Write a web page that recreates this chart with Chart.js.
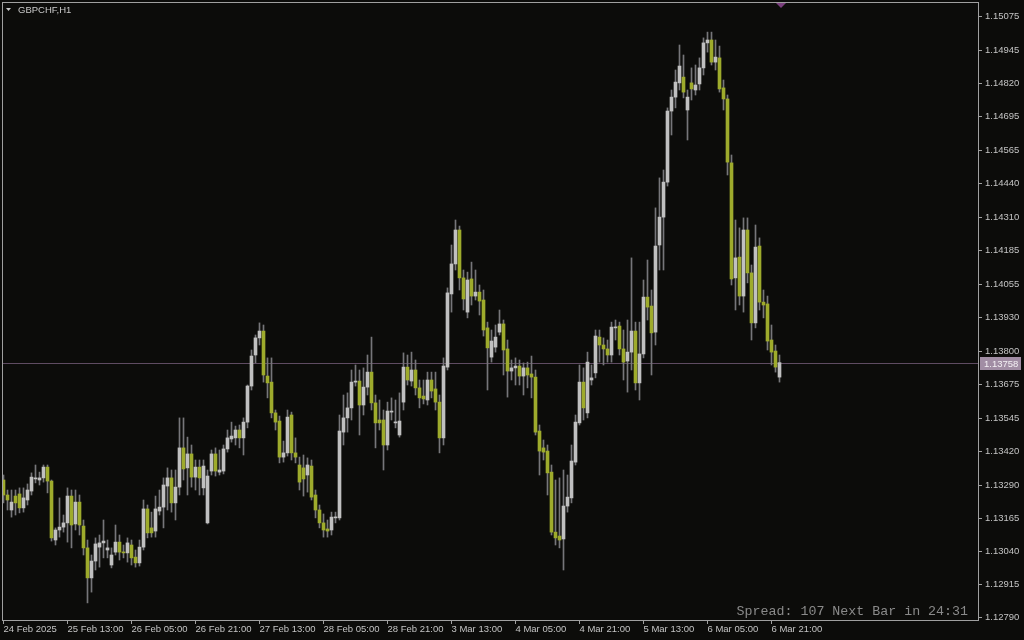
<!DOCTYPE html>
<html>
<head>
<meta charset="utf-8">
<title>GBPCHF,H1</title>
<script src="https://cdn.jsdelivr.net/npm/chart.js@4.4.1/dist/chart.umd.min.js"></script>
<style>
    html, body { margin: 0; padding: 0; background: #0c0c0a; overflow: hidden; }
</style>
</head>
<body>
<canvas id="chart" width="1024" height="640"></canvas>
<script>
// GBPCHF H1 - una vela por hora, 24 Feb 21:00 -> 6 Mar 23:00
const opens = [
    1.13312, 1.13255, 1.13198, 1.13251, 1.13259, 1.13206, 1.13236, 1.13270, 1.13316, 1.13312,
    1.13320, 1.13361, 1.13308, 1.13084, 1.13122, 1.13133, 1.13149, 1.13251, 1.13145, 1.13228,
    1.13137, 1.13054, 1.12940, 1.13004, 1.13057, 1.13073, 1.13046, 1.12989, 1.13038, 1.13076,
    1.13038, 1.13035, 1.13065, 1.13019, 1.12997, 1.13057, 1.13202, 1.13130, 1.13118, 1.13194,
    1.13209, 1.13289, 1.13320, 1.13225, 1.13285, 1.13434, 1.13358, 1.13411, 1.13323, 1.13361,
    1.13282, 1.13149, 1.13346, 1.13411, 1.13342, 1.13346, 1.13430, 1.13468, 1.13472, 1.13502,
    1.13472, 1.13532, 1.13669, 1.13787, 1.13852, 1.13878, 1.13707, 1.13684, 1.13567, 1.13536,
    1.13399, 1.13415, 1.13559, 1.13415, 1.13369, 1.13358, 1.13331, 1.13365, 1.13255, 1.13198,
    1.13149, 1.13126, 1.13122, 1.13168, 1.13168, 1.13494, 1.13548, 1.13586, 1.13684, 1.13688,
    1.13597, 1.13665, 1.13722, 1.13605, 1.13540, 1.13540, 1.13445, 1.13570, 1.13529, 1.13483,
    1.13608, 1.13741, 1.13688, 1.13730, 1.13662, 1.13631, 1.13616, 1.13692, 1.13658, 1.13608,
    1.13472, 1.13741, 1.14019, 1.14133, 1.14262, 1.14080, 1.13950, 1.14076, 1.14011, 1.14026,
    1.13996, 1.13890, 1.13779, 1.13817, 1.13874, 1.13905, 1.13810, 1.13726, 1.13738, 1.13745,
    1.13707, 1.13738, 1.13715, 1.13703, 1.13498, 1.13434, 1.13422, 1.13342, 1.13114, 1.13099,
    1.13088, 1.13213, 1.13244, 1.13380, 1.13529, 1.13684, 1.13567, 1.13692, 1.13719, 1.13855,
    1.13825, 1.13810, 1.13787, 1.13890, 1.13897, 1.13810, 1.13764, 1.13798, 1.13878, 1.13681,
    1.13791, 1.14007, 1.13973, 1.13874, 1.14205, 1.14311, 1.14444, 1.14714, 1.14767, 1.14821,
    1.14843, 1.14718, 1.14821, 1.14794, 1.14817, 1.14878, 1.14973, 1.14984, 1.14900, 1.14916,
    1.14802, 1.14760, 1.14517, 1.14080, 1.14159, 1.14011, 1.14262, 1.14099, 1.13909, 1.14201,
    1.13988, 1.13981, 1.13844, 1.13802, 1.13703
];
const highs = [
    1.13331, 1.13274, 1.13274, 1.13274, 1.13282, 1.13282, 1.13297, 1.13339, 1.13369, 1.13342,
    1.13369, 1.13369, 1.13312, 1.13130, 1.13244, 1.13179, 1.13282, 1.13274, 1.13274, 1.13255,
    1.13160, 1.13084, 1.13027, 1.13092, 1.13103, 1.13160, 1.13084, 1.13054, 1.13141, 1.13103,
    1.13065, 1.13092, 1.13084, 1.13046, 1.13084, 1.13236, 1.13217, 1.13190, 1.13251, 1.13274,
    1.13320, 1.13358, 1.13350, 1.13350, 1.13548, 1.13548, 1.13475, 1.13445, 1.13388, 1.13388,
    1.13388, 1.13350, 1.13426, 1.13434, 1.13426, 1.13445, 1.13502, 1.13532, 1.13517, 1.13521,
    1.13548, 1.13673, 1.13806, 1.13863, 1.13909, 1.13901, 1.13776, 1.13776, 1.13578, 1.13555,
    1.13460, 1.13578, 1.13570, 1.13472, 1.13399, 1.13407, 1.13396, 1.13388, 1.13274, 1.13217,
    1.13183, 1.13160, 1.13190, 1.13190, 1.13559, 1.13635, 1.13643, 1.13730, 1.13749, 1.13730,
    1.13738, 1.13787, 1.13855, 1.13635, 1.13616, 1.13578, 1.13608, 1.13624, 1.13616, 1.13643,
    1.13795, 1.13787, 1.13798, 1.13768, 1.13692, 1.13692, 1.13722, 1.13722, 1.13722, 1.13635,
    1.13776, 1.14042, 1.14205, 1.14300, 1.14277, 1.14110, 1.14102, 1.14140, 1.14110, 1.14053,
    1.14034, 1.13912, 1.13882, 1.13901, 1.13958, 1.13920, 1.13844, 1.13768, 1.13776, 1.13768,
    1.13757, 1.13760, 1.13783, 1.13730, 1.13521, 1.13464, 1.13445, 1.13369, 1.13312, 1.13320,
    1.13350, 1.13331, 1.13445, 1.13559, 1.13749, 1.13738, 1.13798, 1.13749, 1.13882, 1.13882,
    1.13852, 1.13844, 1.13912, 1.13920, 1.13912, 1.13882, 1.13920, 1.14156, 1.13912, 1.13912,
    1.14072, 1.14148, 1.14034, 1.14346, 1.14460, 1.14490, 1.14726, 1.14794, 1.14870, 1.14965,
    1.14927, 1.14794, 1.14878, 1.14889, 1.14916, 1.14992, 1.15014, 1.15014, 1.14984, 1.14961,
    1.14832, 1.14775, 1.14547, 1.14300, 1.14270, 1.14308, 1.14308, 1.14129, 1.14281, 1.14232,
    1.14034, 1.14011, 1.13901, 1.13825, 1.13787
];
const lows = [
    1.13225, 1.13198, 1.13171, 1.13179, 1.13187, 1.13190, 1.13217, 1.13255, 1.13301, 1.13293,
    1.13304, 1.13263, 1.13080, 1.13065, 1.13095, 1.13114, 1.13076, 1.13054, 1.13122, 1.13103,
    1.13027, 1.12845, 1.12886, 1.12970, 1.12981, 1.13016, 1.13016, 1.12978, 1.13027, 1.13008,
    1.13016, 1.13000, 1.12989, 1.12981, 1.12985, 1.13046, 1.13092, 1.13095, 1.13095, 1.13179,
    1.13130, 1.13198, 1.13190, 1.13160, 1.13255, 1.13312, 1.13255, 1.13285, 1.13274, 1.13255,
    1.13255, 1.13145, 1.13331, 1.13327, 1.13331, 1.13335, 1.13418, 1.13456, 1.13445, 1.13434,
    1.13407, 1.13510, 1.13654, 1.13757, 1.13825, 1.13684, 1.13624, 1.13548, 1.13502, 1.13377,
    1.13380, 1.13403, 1.13388, 1.13377, 1.13274, 1.13251, 1.13266, 1.13236, 1.13168, 1.13130,
    1.13095, 1.13095, 1.13103, 1.13149, 1.13160, 1.13445, 1.13494, 1.13540, 1.13669, 1.13483,
    1.13559, 1.13635, 1.13578, 1.13434, 1.13502, 1.13350, 1.13426, 1.13540, 1.13510, 1.13475,
    1.13578, 1.13673, 1.13669, 1.13635, 1.13586, 1.13601, 1.13597, 1.13624, 1.13578, 1.13415,
    1.13445, 1.13730, 1.13950, 1.14110, 1.14034, 1.13958, 1.13928, 1.13977, 1.13996, 1.13939,
    1.13859, 1.13654, 1.13760, 1.13798, 1.13863, 1.13711, 1.13627, 1.13692, 1.13673, 1.13673,
    1.13635, 1.13662, 1.13624, 1.13483, 1.13331, 1.13388, 1.13255, 1.13103, 1.13065, 1.13054,
    1.12970, 1.13190, 1.13225, 1.13369, 1.13521, 1.13540, 1.13548, 1.13673, 1.13700, 1.13760,
    1.13749, 1.13760, 1.13760, 1.13844, 1.13787, 1.13692, 1.13646, 1.13730, 1.13654, 1.13616,
    1.13776, 1.13920, 1.13711, 1.13825, 1.14110, 1.14110, 1.14429, 1.14623, 1.14726, 1.14794,
    1.14764, 1.14604, 1.14756, 1.14775, 1.14794, 1.14851, 1.14938, 1.14889, 1.14870, 1.14786,
    1.14718, 1.14471, 1.14053, 1.13958, 1.13977, 1.13950, 1.14061, 1.13844, 1.13890, 1.13958,
    1.13928, 1.13806, 1.13749, 1.13722, 1.13684
];
const closes = [
    1.13255, 1.13236, 1.13228, 1.13225, 1.13206, 1.13244, 1.13274, 1.13323, 1.13320, 1.13320,
    1.13361, 1.13308, 1.13092, 1.13122, 1.13133, 1.13149, 1.13251, 1.13141, 1.13228, 1.13141,
    1.13054, 1.12940, 1.13004, 1.13069, 1.13073, 1.13080, 1.13054, 1.13027, 1.13076, 1.13038,
    1.13035, 1.13073, 1.13016, 1.12997, 1.13057, 1.13202, 1.13111, 1.13111, 1.13202, 1.13209,
    1.13293, 1.13320, 1.13225, 1.13285, 1.13434, 1.13354, 1.13411, 1.13323, 1.13361, 1.13320,
    1.13365, 1.13327, 1.13411, 1.13346, 1.13350, 1.13430, 1.13472, 1.13479, 1.13502, 1.13472,
    1.13532, 1.13669, 1.13783, 1.13852, 1.13878, 1.13711, 1.13681, 1.13567, 1.13532, 1.13399,
    1.13415, 1.13551, 1.13415, 1.13399, 1.13304, 1.13316, 1.13369, 1.13247, 1.13198, 1.13149,
    1.13122, 1.13118, 1.13171, 1.13171, 1.13498, 1.13548, 1.13586, 1.13684, 1.13688, 1.13597,
    1.13665, 1.13722, 1.13605, 1.13529, 1.13529, 1.13445, 1.13574, 1.13574, 1.13532, 1.13536,
    1.13741, 1.13692, 1.13730, 1.13662, 1.13624, 1.13620, 1.13692, 1.13650, 1.13608, 1.13472,
    1.13745, 1.14023, 1.14133, 1.14262, 1.14080, 1.14000, 1.14072, 1.14011, 1.14026, 1.13992,
    1.13882, 1.13814, 1.13840, 1.13855, 1.13905, 1.13806, 1.13726, 1.13738, 1.13745, 1.13707,
    1.13738, 1.13711, 1.13703, 1.13494, 1.13422, 1.13418, 1.13339, 1.13114, 1.13092, 1.13084,
    1.13213, 1.13247, 1.13384, 1.13532, 1.13684, 1.13586, 1.13760, 1.13700, 1.13859, 1.13825,
    1.13810, 1.13787, 1.13893, 1.13893, 1.13810, 1.13760, 1.13798, 1.13878, 1.13681, 1.13791,
    1.14007, 1.13969, 1.13871, 1.14201, 1.14311, 1.14444, 1.14714, 1.14767, 1.14824, 1.14885,
    1.14786, 1.14767, 1.14798, 1.14813, 1.14878, 1.14973, 1.14984, 1.14900, 1.14919, 1.14798,
    1.14760, 1.14520, 1.14076, 1.14156, 1.14011, 1.14262, 1.14099, 1.13909, 1.14197, 1.13988,
    1.13977, 1.13840, 1.13798, 1.13741, 1.13758
];

// etiquetas del eje de tiempo (una cada 16 velas)
const tickLabels = [
    '24 Feb 2025', '25 Feb 13:00', '26 Feb 05:00', '26 Feb 21:00', '27 Feb 13:00',
    '28 Feb 05:00', '28 Feb 21:00', '3 Mar 13:00', '4 Mar 05:00', '4 Mar 21:00',
    '5 Mar 13:00', '6 Mar 05:00', '6 Mar 21:00'
];
const tickStep = 16;

// escala de precios
const priceTicks = [
    1.15075, 1.14945, 1.14820, 1.14695, 1.14565, 1.14440, 1.14310, 1.14185, 1.14055, 1.13930,
    1.13800, 1.13675, 1.13545, 1.13420, 1.13290, 1.13165, 1.13040, 1.12915, 1.12790
];
const priceMin = 1.12780;
const priceMax = 1.151284;
const lastPrice = 1.13758;

const symbolText = 'GBPCHF,H1';
const spreadText = 'Spread: 107 Next Bar in 24:31';

// colores estilo MT4
const BG = '#0c0c0a';
const BULL = '#c0c0c0';
const BEAR = '#9eab2c';
const WICK = '#76767a';
const FRAME = '#a0a0a0';
const TEXT = '#c4c4c4';

const bodyData = opens.map((o, i) => ({ x: i, y: [o, closes[i]] }));
const wickData = lows.map((l, i) => ({ x: i, y: [l, highs[i]] }));
const bodyColors = opens.map((o, i) => closes[i] >= o ? BULL : BEAR);

const mtPlugin = {
    id: 'mt4',
    beforeDraw(chart) {
        const c = chart.ctx;
        c.save();
        c.fillStyle = BG;
        c.fillRect(0, 0, chart.width, chart.height);
        c.restore();
    },
    beforeDatasetsDraw(chart) {
        // linea del precio actual
        const { ctx: c, chartArea: a } = chart;
        const y = Math.round(chart.scales.y.getPixelForValue(lastPrice)) + 0.5;
        c.save();
        c.strokeStyle = '#5f4c62';
        c.lineWidth = 1;
        c.beginPath();
        c.moveTo(a.left, y);
        c.lineTo(a.right, y);
        c.stroke();
        c.restore();
    },
    afterDraw(chart) {
        const { ctx: c, chartArea: a } = chart;
        c.save();

        // marco
        c.strokeStyle = FRAME;
        c.lineWidth = 1;
        c.strokeRect(a.left + 0.5, a.top + 0.5, a.right - a.left, a.bottom - a.top);

        // etiqueta del precio actual
        const y = Math.round(chart.scales.y.getPixelForValue(lastPrice));
        c.fillStyle = '#a18da4';
        c.fillRect(a.right + 2, y - 6, 41, 13);
        c.fillStyle = '#f4f0f4';
        c.font = '9.5px "Liberation Sans", Arial, sans-serif';
        c.textBaseline = 'middle';
        c.textAlign = 'left';
        c.fillText(lastPrice.toFixed(5), a.right + 6, y + 1);

        // simbolo arriba a la izquierda
        c.fillStyle = '#c8c8c8';
        c.beginPath();
        c.moveTo(6, 8);
        c.lineTo(11, 8);
        c.lineTo(8.5, 11);
        c.closePath();
        c.fill();
        c.font = '9.5px "Liberation Sans", Arial, sans-serif';
        c.fillText(symbolText, 18, 10);

        // marcador de desplazamiento
        c.fillStyle = '#7a3f7d';
        c.beginPath();
        c.moveTo(776, a.top + 1);
        c.lineTo(786, a.top + 1);
        c.lineTo(781, a.top + 6);
        c.closePath();
        c.fill();

        // texto del spread
        c.fillStyle = '#8a8a8a';
        c.font = '13.3px "Liberation Mono", "Courier New", monospace';
        c.textAlign = 'right';
        c.textBaseline = 'alphabetic';
        c.fillText(spreadText, 968, 615);

        c.restore();
    }
};

new Chart(document.getElementById('chart'), {
    type: 'bar',
    data: {
        datasets: [
            {
                label: 'body',
                data: bodyData,
                backgroundColor: bodyColors,
                barThickness: 3,
                minBarLength: 1,
                order: 0
            },
            {
                label: 'wick',
                data: wickData,
                backgroundColor: WICK,
                barThickness: 1,
                order: 1
            }
        ]
    },
    options: {
        responsive: false,
        animation: false,
        events: [],
        layout: { padding: { left: 2, top: 2, right: 0, bottom: 0 } },
        datasets: { bar: { grouped: false, borderWidth: 0 } },
        plugins: {
            legend: { display: false },
            tooltip: { enabled: false }
        },
        scales: {
            x: {
                type: 'linear',
                position: 'bottom',
                min: -0.375,
                max: 243.625,
                offset: false,
                bounds: 'data',
                afterBuildTicks: s => { s.ticks = tickLabels.map((t, k) => ({ value: k * tickStep })); },
                afterFit: s => { s.height = 20; s.paddingLeft = 0; s.paddingRight = 0; },
                grid: { offset: false, drawOnChartArea: false, drawTicks: true, tickLength: 4, color: FRAME },
                border: { display: false },
                ticks: {
                    autoSkip: false,
                    maxRotation: 0,
                    align: 'start',
                    padding: 0,
                    color: TEXT,
                    font: { family: '"Liberation Sans", Arial, sans-serif', size: 9.5 },
                    callback: (v, k) => tickLabels[k]
                }
            },
            y: {
                type: 'linear',
                position: 'right',
                min: priceMin,
                max: priceMax,
                bounds: 'data',
                afterBuildTicks: s => { s.ticks = priceTicks.map(v => ({ value: v })); },
                afterFit: s => { s.width = 46; s.paddingTop = 0; s.paddingBottom = 0; },
                grid: { drawOnChartArea: false, drawTicks: true, tickLength: 4, color: FRAME },
                border: { display: false },
                ticks: {
                    autoSkip: false,
                    padding: 3,
                    color: TEXT,
                    font: { family: '"Liberation Sans", Arial, sans-serif', size: 9.5 },
                    callback: v => v.toFixed(5)
                }
            }
        }
    },
    plugins: [mtPlugin]
});
</script>
</body>
</html>
